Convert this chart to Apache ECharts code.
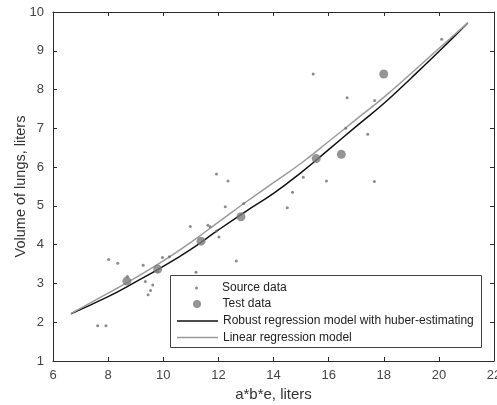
<!DOCTYPE html>
<html>
<head>
<meta charset="utf-8">
<script src="https://cdn.jsdelivr.net/npm/echarts@6/dist/echarts.min.js"></script>
<style>html,body{margin:0;padding:0;background:#fff;}#c{width:497px;height:405px;}</style>
</head>
<body>
<div id="c"></div>
<script>
var xTicks = [6, 8, 10, 12, 14, 16, 18, 20, 22];
var yTicks = [1, 2, 3, 4, 5, 6, 7, 8, 9, 10];
var sourceData = [
  [7.62,1.91],[7.92,1.91],[8.02,3.62],[8.35,3.52],[8.70,3.18],[9.27,3.47],[9.35,3.05],
  [9.45,2.71],[9.54,2.82],[9.62,2.96],[9.80,3.30],[9.97,3.67],[10.22,3.69],[10.98,4.47],
  [11.19,3.29],[11.62,4.50],[11.70,4.46],[11.93,4.35],[12.02,4.20],[11.93,5.82],[12.35,5.64],
  [12.25,4.98],[12.65,3.58],[12.92,5.06],[14.50,4.95],[14.69,5.35],[15.08,5.74],[15.44,8.40],
  [15.92,5.64],[16.62,7.00],[16.67,7.79],[17.42,6.85],[17.66,5.63],[17.67,7.72],[20.10,9.30]
];
var testData = [[8.68,3.06],[9.80,3.37],[11.37,4.09],[12.82,4.72],[15.55,6.22],[16.46,6.33],[18.00,8.40]];
var robustModel = [
  [6.65,2.22],[8,2.66],[9,3.04],[10,3.44],[11,3.88],[12,4.38],[13,4.86],[14,5.32],[15,5.86],
  [16,6.45],[17,7.05],[18,7.64],[19,8.30],[20,8.98],[21.05,9.72]
];
var linearModel = [
  [6.65,2.22],[8,2.75],[9,3.15],[10,3.58],[11,4.06],[12,4.58],[13,5.10],[14,5.60],[15,6.10],
  [16,6.66],[17,7.23],[18,7.80],[19,8.42],[20,9.06],[21.05,9.72]
];
var seriesNames = ['Source data', 'Test data', 'Robust regression model with huber-estimating', 'Linear regression model'];

var chart = echarts.init(document.getElementById('c'), null, {renderer: 'canvas'});
var font = 'Liberation Sans, Arial, sans-serif';
var axisColor = '#2b2b2b';
var baseAxis = {
  min: 6, max: 22, interval: 2,
  axisLine: {show: true, lineStyle: {color: axisColor, width: 1}},
  axisTick: {show: true, inside: true, length: 4, lineStyle: {color: axisColor}},
  splitLine: {show: false}
};
var legendText = {fontFamily: font, fontSize: 12, color: '#222'};
var lineIcon = 'path://M0,0L41,0L41,1.5L0,1.5Z';
chart.setOption({
  animation: false,
  backgroundColor: '#fff',
  grid: {left: 53, right: 3, top: 12, bottom: 44, show: false, containLabel: false, outerBoundsMode: 'none'},
  xAxis: [
    Object.assign({}, baseAxis, {
      type: 'value', position: 'bottom',
      name: 'a*b*e, liters', nameLocation: 'middle', nameGap: 26, nameMoveOverlap: false,
      nameTextStyle: {fontFamily: font, fontSize: 15, color: '#333'},
      axisLabel: {fontFamily: font, fontSize: 13, color: '#444', margin: 8,
        formatter: function (v) { return xTicks.indexOf(v) >= 0 ? String(v) : ''; }}
    }),
    Object.assign({}, baseAxis, {type: 'value', position: 'top', axisLabel: {show: false}})
  ],
  yAxis: [
    {
      type: 'value', min: 1, max: 10, interval: 1, position: 'left',
      name: 'Volume of lungs, liters', nameLocation: 'middle', nameGap: 25, nameMoveOverlap: false,
      nameTextStyle: {fontFamily: font, fontSize: 14.5, color: '#333'},
      axisLine: {show: true, lineStyle: {color: axisColor}},
      axisTick: {show: true, inside: true, length: 4, lineStyle: {color: axisColor}},
      splitLine: {show: false},
      axisLabel: {fontFamily: font, fontSize: 13, color: '#444', margin: 9,
        formatter: function (v) { return yTicks.indexOf(v) >= 0 ? String(v) : ''; }}
    },
    {
      type: 'value', min: 1, max: 10, interval: 1, position: 'right',
      axisLine: {show: true, lineStyle: {color: axisColor}},
      axisTick: {show: true, inside: true, length: 4, lineStyle: {color: axisColor}},
      splitLine: {show: false}, axisLabel: {show: false}
    }
  ],
  graphic: [{
    type: 'rect', left: 170, top: 275, z: 5,
    shape: {width: 311, height: 72},
    style: {fill: '#fff', stroke: '#444', lineWidth: 1}
  }],
  legend: [
    {data: [{name: seriesNames[0], icon: 'circle'}], orient: 'vertical', left: 195, top: 282, padding: 0,
      itemWidth: 41, itemHeight: 3, itemGap: 0, symbolKeepAspect: false, textStyle: legendText, z: 6},
    {data: [{name: seriesNames[1], icon: 'circle'}], orient: 'vertical', left: 193, top: 298, padding: 0,
      itemWidth: 41, itemHeight: 8, itemGap: 0, symbolKeepAspect: false, textStyle: legendText, z: 6},
    {data: [{name: seriesNames[2], icon: lineIcon}, {name: seriesNames[3], icon: lineIcon}],
      orient: 'vertical', left: 177, top: 315, padding: 0,
      itemWidth: 41, itemHeight: 12, itemGap: 4.5, textStyle: legendText, z: 6}
  ],
  series: [
    {name: seriesNames[0], type: 'scatter', data: sourceData, symbolSize: 3,
      itemStyle: {color: '#6e6e6e'}, z: 3},
    {name: seriesNames[1], type: 'scatter', data: testData, symbolSize: 9,
      itemStyle: {color: '#7a7a7a'}, z: 4},
    {name: seriesNames[2], type: 'line', data: robustModel,
      smooth: true, showSymbol: false, symbol: 'none',
      lineStyle: {color: '#111', width: 1.5}, itemStyle: {color: '#111'}, z: 2},
    {name: seriesNames[3], type: 'line', data: linearModel,
      smooth: true, showSymbol: false, symbol: 'none',
      lineStyle: {color: '#9a9a9a', width: 1.5}, itemStyle: {color: '#9a9a9a'}, z: 2}
  ]
});
</script>
</body>
</html>
